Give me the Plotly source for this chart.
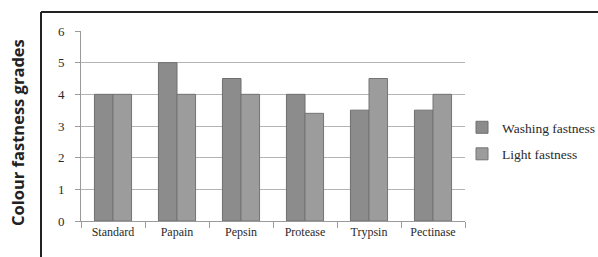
import plotly.graph_objects as go

categories = ["Standard", "Papain", "Pepsin", "Protease", "Trypsin", "Pectinase"]
washing = [4, 5, 4.5, 4, 3.5, 3.5]
light = [4, 4, 4, 3.4, 4.5, 4]
y_ticks = [0, 1, 2, 3, 4, 5, 6]

W, H = 598, 257
L, R, T, B = 81, 133, 31, 36
pw, ph = W - L - R, H - T - B

def px(x):
    return (x - L) / pw

def py(y):
    return (H - B - y) / ph

fig = go.Figure()
fig.add_trace(go.Bar(x=categories, y=washing, name="Washing fastness",
                     legendgroup="w",
                     marker=dict(color="#8c8c8c", line=dict(color="#6f6f6f", width=1))))
fig.add_trace(go.Bar(x=categories, y=light, name="Light fastness",
                     legendgroup="l",
                     marker=dict(color="#9c9c9c", line=dict(color="#747474", width=1))))

serif = "Liberation Serif"
fig.update_layout(
    width=W, height=H,
    margin=dict(l=L, r=R, t=T, b=B, autoexpand=False),
    paper_bgcolor="white", plot_bgcolor="white",
    barmode="group", bargap=0.42, bargroupgap=0,
    showlegend=True,
    legend=dict(x=px(462), y=py(112), xanchor="left", yanchor="top",
                font=dict(family=serif, size=13.5, color="#2a2a2a"),
                tracegroupgap=6, itemwidth=30,
                bgcolor="rgba(0,0,0,0)"),
    xaxis=dict(tickfont=dict(family=serif, size=12, color="#2a2a2a"),
               showline=True, linecolor="#9a9a9a", linewidth=1,
               ticks="outside", ticklen=6, tickcolor="#9a9a9a",
               tickson="boundaries", showgrid=False),
    yaxis=dict(range=[0, 6], tickvals=y_ticks,
               tickfont=dict(family=serif, size=13, color="#2a2a2a"),
               showline=True, linecolor="#9a9a9a", linewidth=1,
               ticks="outside", ticklen=5, tickcolor="#9a9a9a",
               showgrid=True, gridcolor="#b4b4b4", gridwidth=1,
               zeroline=False, ticklabelstandoff=8),
    shapes=[
        dict(type="line", xref="paper", yref="paper",
             x0=px(41), x1=px(600), y0=py(12), y1=py(12),
             line=dict(color="#222222", width=2)),
        dict(type="line", xref="paper", yref="paper",
             x0=px(41), x1=px(41), y0=py(12), y1=py(260),
             line=dict(color="#222222", width=2)),
    ],
    annotations=[
        dict(text="<b>Colour fastness grades</b>", xref="paper", yref="paper",
             x=px(17), y=py(133), textangle=-90, showarrow=False,
             xanchor="center", yanchor="middle",
             font=dict(family="Open Sans", size=16.5, color="#222222")),
    ],
)

fig.write_html("out.html",
               config={"displayModeBar": False},
               post_script="document.body.style.margin='0';document.body.style.overflow='hidden';")
